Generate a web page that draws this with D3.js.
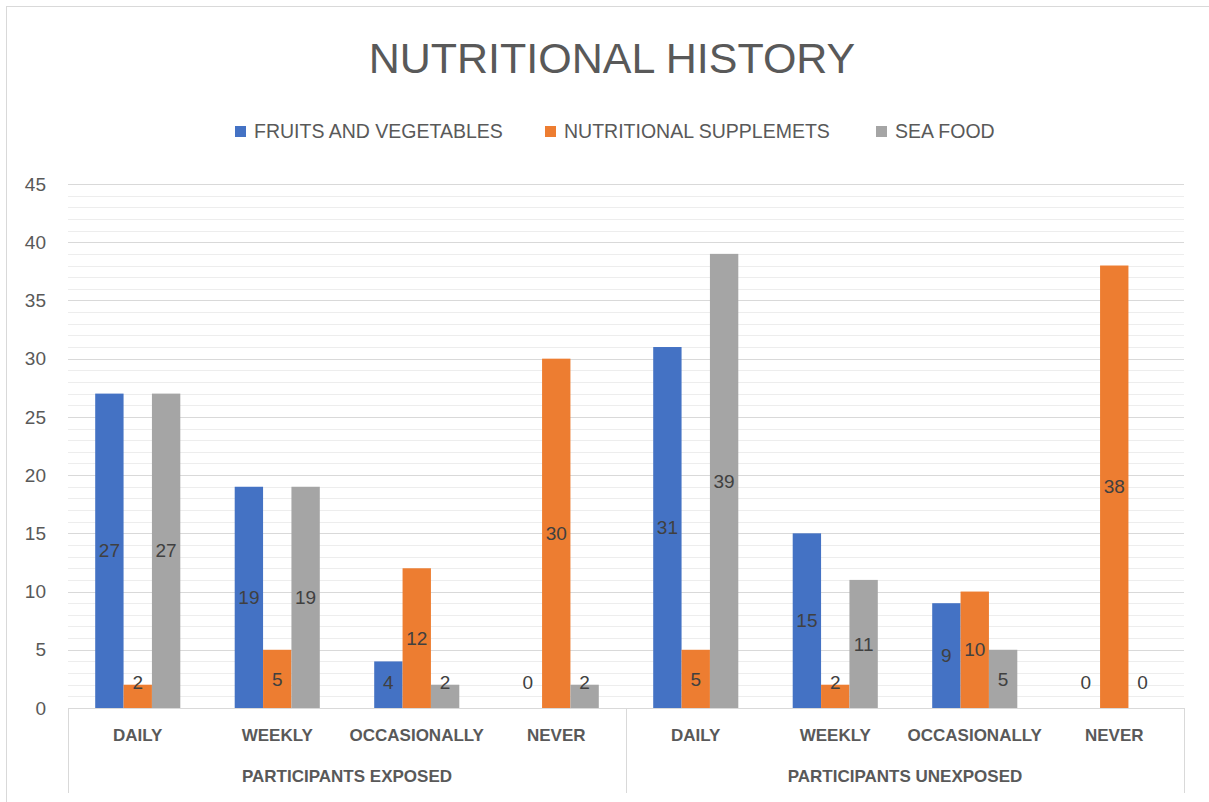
<!DOCTYPE html>
<html>
<head>
<meta charset="utf-8">
<script src="https://cdn.jsdelivr.net/npm/d3@7"></script>
<style>
  body { margin: 0; background: #fff; }
  text { font-family: "Liberation Sans", Arial, sans-serif; }
</style>
</head>
<body>
<div id="chart"></div>
<script>
// chart data
var groups = ["PARTICIPANTS EXPOSED", "PARTICIPANTS UNEXPOSED"];
var frequencies = ["DAILY", "WEEKLY", "OCCASIONALLY", "NEVER"];
var seriesNames = ["FRUITS AND VEGETABLES", "NUTRITIONAL SUPPLEMETS", "SEA FOOD"];
var seriesColors = ["#4472C4", "#ED7D31", "#A5A5A5"];
var fruitsVeg = [27, 19, 4, 0, 31, 15, 9, 0];
var supplements = [2, 5, 12, 30, 5, 2, 10, 38];
var seaFood = [27, 19, 2, 2, 39, 11, 5, 0];
var yTicks = [0, 5, 10, 15, 20, 25, 30, 35, 40, 45];

var W = 1209, H = 802;
var plotLeft = 68, plotRight = 1184, plotTop = 184, plotBottom = 708;

var svg = d3.select("#chart").append("svg")
  .attr("width", W).attr("height", H);

// chart border
svg.append("rect")
  .attr("x", 6.5).attr("y", 6.5)
  .attr("width", W + 20).attr("height", H + 20)
  .attr("fill", "none").attr("stroke", "#d9d9d9");

// build flat category list
var cats = [];
groups.forEach(function(g, gi) {
  frequencies.forEach(function(f, fi) {
    cats.push({ group: g, freq: f, idx: gi * frequencies.length + fi });
  });
});
var series = [fruitsVeg, supplements, seaFood];

var x = d3.scaleBand()
  .domain(cats.map(function(d) { return d.idx; }))
  .range([plotLeft, plotRight])
  .paddingInner(0.39).paddingOuter(0.195);

var xs = d3.scaleBand()
  .domain(seriesNames)
  .range([0, x.bandwidth()]);

var y = d3.scaleLinear().domain([0, 45]).range([plotBottom, plotTop]);

// minor gridlines
var minor = d3.range(1, 46).filter(function(v) { return v % 5 != 0; });
svg.append("g").selectAll("line")
  .data(minor).enter().append("line")
  .attr("x1", plotLeft).attr("x2", plotRight)
  .attr("y1", function(d) { return Math.round(y(d)) + 0.5; })
  .attr("y2", function(d) { return Math.round(y(d)) + 0.5; })
  .attr("stroke", "#ededed");

// major gridlines
svg.append("g").selectAll("line")
  .data(yTicks.slice(1)).enter().append("line")
  .attr("x1", plotLeft).attr("x2", plotRight)
  .attr("y1", function(d) { return Math.round(y(d)) + 0.5; })
  .attr("y2", function(d) { return Math.round(y(d)) + 0.5; })
  .attr("stroke", "#d9d9d9");

// y tick labels
svg.append("g").selectAll("text")
  .data(yTicks).enter().append("text")
  .attr("x", 46)
  .attr("y", function(d) { return y(d); })
  .attr("dy", "0.35em")
  .attr("text-anchor", "end")
  .attr("font-size", 19)
  .attr("fill", "#595959")
  .text(function(d) { return d; });

// bars
seriesNames.forEach(function(name, si) {
  var g = svg.append("g");
  g.selectAll("rect")
    .data(series[si]).enter().append("rect")
    .attr("x", function(d, i) { return x(i) + xs(name); })
    .attr("y", function(d) { return y(d); })
    .attr("width", xs.bandwidth())
    .attr("height", function(d) { return plotBottom - y(d); })
    .attr("fill", seriesColors[si]);

  g.selectAll("text")
    .data(series[si]).enter().append("text")
    .attr("x", function(d, i) { return x(i) + xs(name) + xs.bandwidth() / 2; })
    .attr("y", function(d) { return Math.min((y(d) + plotBottom) / 2, plotBottom - 26); })
    .attr("dy", "0.35em")
    .attr("text-anchor", "middle")
    .attr("font-size", 19)
    .attr("fill", "#404040")
    .text(function(d) { return d; });
});

// x axis line and group separators
svg.append("line")
  .attr("x1", plotLeft).attr("x2", plotRight)
  .attr("y1", plotBottom + 0.5).attr("y2", plotBottom + 0.5)
  .attr("stroke", "#d9d9d9");

var seps = [plotLeft, (plotLeft + plotRight) / 2, plotRight];
svg.append("g").selectAll("line")
  .data(seps).enter().append("line")
  .attr("x1", function(d) { return Math.round(d) + 0.5; })
  .attr("x2", function(d) { return Math.round(d) + 0.5; })
  .attr("y1", plotBottom).attr("y2", 793)
  .attr("stroke", "#d9d9d9");

// category labels
svg.append("g").selectAll("text")
  .data(cats).enter().append("text")
  .attr("x", function(d) { return x(d.idx) + x.bandwidth() / 2; })
  .attr("y", 735)
  .attr("dy", "0.35em")
  .attr("text-anchor", "middle")
  .attr("font-size", 17)
  .attr("font-weight", "bold")
  .attr("fill", "#595959")
  .text(function(d) { return d.freq; });

// group labels
svg.append("g").selectAll("text")
  .data(groups).enter().append("text")
  .attr("x", function(d, i) { return seps[i] + (seps[i + 1] - seps[i]) / 2; })
  .attr("y", 776)
  .attr("dy", "0.35em")
  .attr("text-anchor", "middle")
  .attr("font-size", 17)
  .attr("font-weight", "bold")
  .attr("fill", "#595959")
  .text(function(d) { return d; });

// title
svg.append("text")
  .attr("x", 612).attr("y", 58)
  .attr("dy", "0.35em")
  .attr("text-anchor", "middle")
  .attr("font-size", 43)
  .attr("fill", "#595959")
  .text("NUTRITIONAL HISTORY");

// legend
var legendX = [235, 545, 876];
var legend = svg.append("g").selectAll("g")
  .data(seriesNames).enter().append("g")
  .attr("transform", function(d, i) { return "translate(" + legendX[i] + ",131)"; });
legend.append("rect")
  .attr("x", 0).attr("y", -5)
  .attr("width", 11).attr("height", 11)
  .attr("fill", function(d, i) { return seriesColors[i]; });
legend.append("text")
  .attr("x", 19).attr("y", 0)
  .attr("dy", "0.35em")
  .attr("font-size", 19.5)
  .attr("fill", "#595959")
  .text(function(d) { return d; });
</script>
</body>
</html>
